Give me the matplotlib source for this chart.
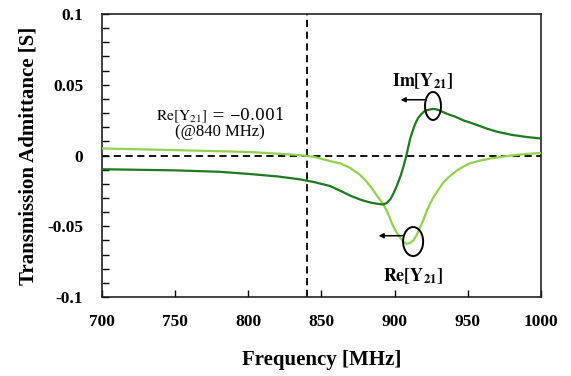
import numpy as np
import matplotlib.pyplot as plt
from matplotlib.patches import Arc

plt.rcParams['font.family'] = ['Liberation Serif', 'DejaVu Serif']
plt.rcParams['mathtext.fontset'] = 'stix'

# Im[Y21] (dark green)
f_im = [700, 750, 780, 800, 820, 835, 845, 856, 863, 870, 876, 879, 884, 888,
        892, 894.5, 897, 899, 901.4, 904, 906, 907.5, 909, 910.5, 912, 914,
        916, 918, 920, 922, 925, 927, 930, 933, 937, 942, 947, 952, 957, 963,
        970, 980, 990, 1000]
im_y21 = [-0.0097, -0.0105, -0.0115, -0.013, -0.0148, -0.0168, -0.0188, -0.0216,
          -0.025, -0.0285, -0.031, -0.032, -0.0334, -0.0341, -0.0346, -0.0336,
          -0.031, -0.0272, -0.0216, -0.0145, -0.0078, -0.002, 0.0045, 0.0115,
          0.0165, 0.0223, 0.0265, 0.029, 0.031, 0.032, 0.0327, 0.0329, 0.0322,
          0.0307, 0.029, 0.0272, 0.0248, 0.0231, 0.0213, 0.019, 0.0168, 0.0146,
          0.0131, 0.012]

# Re[Y21] (light green)
f_re = [700, 750, 800, 820, 835, 845, 856, 863, 869.5, 876, 880, 883, 886, 889,
        892.3, 895, 897, 899, 901.4, 904, 906, 908.3, 910.5, 912.8, 915, 917.4,
        920, 922, 924, 926.5, 930, 933.3, 937, 942.4, 947, 951.5, 958, 965,
        975, 981, 990, 1000]
re_y21 = [0.005, 0.0038, 0.0025, 0.0013, 0.0003, -0.001, -0.004, -0.0056,
          -0.0087, -0.0134, -0.0175, -0.0213, -0.0255, -0.030, -0.0346, -0.040,
          -0.045, -0.050, -0.0545, -0.0585, -0.061, -0.0625, -0.0618, -0.060,
          -0.0562, -0.0508, -0.0445, -0.039, -0.0345, -0.0295, -0.024, -0.019,
          -0.0152, -0.0107, -0.0078, -0.0055, -0.0037, -0.0022, -0.0006, 0.0001,
          0.0011, 0.0018]

xticks = [700, 750, 800, 850, 900, 950, 1000]
yticks = [-0.1, -0.05, 0, 0.05, 0.1]
ytick_labels = ['-0.1', '-0.05', '0', '0.05', '0.1']

fig = plt.figure(figsize=(5.71, 3.76), dpi=100)
ax = fig.add_axes([102 / 571, 1 - 297 / 376, (541 - 102) / 571, (297 - 14) / 376])

ax.plot(f_re, re_y21, color='#92d050', lw=1.6, zorder=3)
ax.plot(f_im, im_y21, color='#1e7a1e', lw=1.6, zorder=3)
ax.axhline(0, color='black', lw=1.3, ls=(0, (4, 2.5)), zorder=2)
ax.axvline(840, color='black', lw=1.3, ls=(0, (4, 2.5)), zorder=2)

ax.set_xlim(700, 1000)
ax.set_ylim(-0.1, 0.1)
ax.set_xticks(xticks)
ax.set_xticklabels([str(x) for x in xticks], fontsize=12.5, fontweight='bold')
ax.set_yticks(yticks)
ax.set_yticklabels(ytick_labels, fontsize=12.5, fontweight='bold')
ax.set_yticks(np.arange(-0.09, 0.1, 0.01), minor=True)
ax.tick_params(axis='both', which='major', direction='in', length=5, width=1)
ax.tick_params(axis='x', which='major', pad=12.5)
ax.tick_params(axis='y', which='major', pad=13.5)
ax.tick_params(axis='y', which='minor', direction='in', length=5, width=1)
for s in ax.spines.values():
    s.set_linewidth(1.2)
    s.set_color('#222222')

ax.set_xlabel('Frequency [MHz]', fontsize=15, fontweight='bold', labelpad=14)
ax.set_ylabel('Transmission Admittance [S]', fontsize=15, fontweight='bold', labelpad=6)

ax.text(780.7, 0.0287, r'$\mathrm{Re[Y_{21}]}$ = $-$0.001', fontsize=11.2,
        ha='center', va='center', family='DejaVu Serif')
ax.text(780.7, 0.0165, '(@840 MHz)', fontsize=12, ha='center', va='center')

ax.text(919.4, 0.0528, r'$\mathbf{Im[Y_{21}]}$', fontsize=13, ha='center', va='center')
ax.text(912.8, -0.085, r'$\mathbf{Re[Y_{21}]}$', fontsize=13, ha='center', va='center')

# loop markers with arrows
ax.add_patch(Arc((926.2, 0.035), 10.9, 0.0198, theta1=165, theta2=455,
                 color='black', lw=1.4, zorder=4))
ax.annotate('', xy=(904.0, 0.0394), xytext=(921.5, 0.0394),
            arrowprops=dict(arrowstyle='-|>', color='black', lw=1.1,
                            mutation_scale=7, shrinkA=0, shrinkB=0))
ax.add_patch(Arc((912.6, -0.0608), 13.7, 0.0205, theta1=165, theta2=455,
                 color='black', lw=1.4, zorder=4))
ax.annotate('', xy=(889.0, -0.0567), xytext=(905.5, -0.0567),
            arrowprops=dict(arrowstyle='-|>', color='black', lw=1.1,
                            mutation_scale=7, shrinkA=0, shrinkB=0))

fig.savefig('out.png', dpi=100)
